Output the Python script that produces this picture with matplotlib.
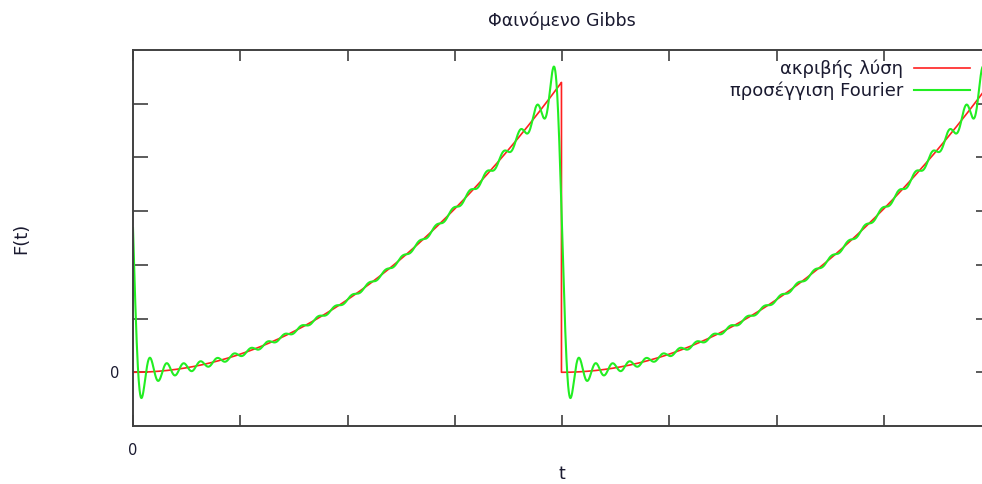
import numpy as np
import matplotlib.pyplot as plt

# exact solution: F(t) = a*t^2 on one period, repeated
PERIOD = 4.0          # in x-tick units
PEAK = 5.41           # F just before the jump, in y-tick units
N_HARMONICS = 25      # terms kept in the Fourier sum
T_END = 8.0

x_ticks = [0, 1, 2, 3, 4, 5, 6, 7, 8]
x_ticklabels = ["0", "", "", "", "", "", "", "", ""]
y_ticks = [0, 1, 2, 3, 4, 5]
y_ticklabels = ["0", "", "", "", "", ""]

a = PEAK / PERIOD**2


def exact(t):
    return a * np.mod(t, PERIOD) ** 2


def fourier(t, n_max):
    x = 2 * np.pi * t / PERIOD
    s = np.full_like(t, a * PERIOD**2 / 3)
    for n in range(1, n_max + 1):
        s += a * PERIOD**2 / (np.pi**2 * n**2) * np.cos(n * x)
        s -= a * PERIOD**2 / (np.pi * n) * np.sin(n * x)
    return s


# sample each period separately so the jump is drawn as a vertical line
t1 = np.linspace(0, PERIOD, 800, endpoint=False)
t2 = np.linspace(PERIOD, T_END, 800, endpoint=False)
t_red = np.concatenate([t1, [t1[-1] + 1e-9], t2])
f_red = np.concatenate([exact(t1), [0.0], exact(t2)])

t_green = np.linspace(0, T_END, 3000)
f_green = fourier(t_green, N_HARMONICS)

fig = plt.figure(figsize=(9.82, 4.84), dpi=100)
ax = fig.add_axes([133 / 982, 58 / 484, 858 / 982, 376 / 484])

ax.plot(t_red, f_red, color="#ff2020", lw=1.2, label="ακριβής λύση")
ax.plot(t_green, f_green, color="#22ee22", lw=1.5, label="προσέγγιση Fourier")

ax.set_xlim(0, T_END)
ax.set_ylim(-1, 6)
ax.set_xticks(x_ticks)
ax.set_xticklabels(x_ticklabels)
ax.set_yticks(y_ticks)
ax.set_yticklabels(y_ticklabels)

txt = "#1a1a30"
ax.tick_params(axis="x", direction="in", length=8, width=1.2, color="#404040",
               top=True, pad=12, labelsize=10.5, labelcolor=txt)
ax.tick_params(axis="y", direction="in", length=11, width=1.2, color="#404040",
               right=True, pad=10, labelsize=10.5, labelcolor=txt)
for sp in ax.spines.values():
    sp.set_color("#404040")
    sp.set_linewidth(1.4)

ax.set_title("Φαινόμενο Gibbs", fontsize=12.5, color=txt, pad=17)
ax.set_xlabel("t", fontsize=12.5, color=txt)
ax.xaxis.set_label_coords(0.5, -0.105)
ax.set_ylabel("F(t)", fontsize=13, color=txt)
ax.yaxis.set_label_coords(-0.12, 0.5)

ax.legend(loc="upper right", bbox_to_anchor=(0.9755, 0.975), frameon=False,
          markerfirst=False, fontsize=13, handlelength=3.1, handletextpad=0.6,
          labelspacing=0.2, borderpad=0, borderaxespad=0, labelcolor=txt)

fig.savefig("out.png", dpi=100)
